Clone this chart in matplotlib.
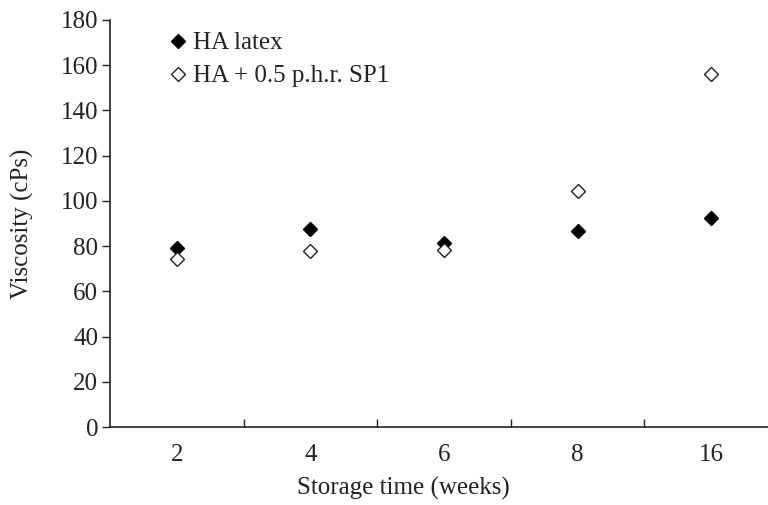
import matplotlib
matplotlib.use("Agg")
import matplotlib.pyplot as plt
import numpy as np

categories = ["2", "4", "6", "8", "16"]
ha_latex = [79, 87.5, 81.5, 86.5, 92.5]
ha_sp1 = [74.5, 78, 78.5, 104.5, 156]
yticks = [0, 20, 40, 60, 80, 100, 120, 140, 160, 180]

plt.rcParams['font.family'] = ['Liberation Serif', 'DejaVu Serif']
FS = 18

fig = plt.figure(figsize=(7.68, 5.05), dpi=100)
ax = fig.add_axes([110/768, 1-427/505, 668/768, 407/505])

x = np.arange(len(categories))
ax.plot(x, ha_latex, linestyle='none', marker='D', markersize=7.5,
        color='black', markeredgecolor='black', label='HA latex')
ax.plot(x, ha_sp1, linestyle='none', marker='D', markersize=7.5,
        markerfacecolor='white', markeredgecolor='#222222', markeredgewidth=1.0,
        label='HA + 0.5 p.h.r. SP1')

ax.set_xlim(-0.5, len(categories)-0.5)
ax.set_ylim(0, 180)
ax.set_yticks(yticks)
ax.set_xticks(x)
ax.set_xticklabels(categories)
ax.set_xticks(np.arange(0.5, len(categories)-0.5, 1), minor=True)
ax.tick_params(axis='x', which='major', length=0, pad=12, labelsize=FS, labelcolor='#222222')
ax.tick_params(axis='x', which='minor', direction='in', length=6, width=1, color='#222222')
ax.tick_params(axis='y', which='major', direction='out', length=6, width=1, color='#222222',
               labelsize=FS, pad=2.5, labelcolor='#222222')

for s in ['top', 'right']:
    ax.spines[s].set_visible(False)
for s in ['left', 'bottom']:
    ax.spines[s].set_linewidth(1.2)
    ax.spines[s].set_color('#222222')

ax.set_xlabel('Storage time (weeks)', fontsize=FS, color='#222222', va='center')
ax.xaxis.set_label_coords((403-110)/668, (427-488)/407)
ax.set_ylabel('Viscosity (cPs)', fontsize=FS, color='#222222', va='center')
ax.yaxis.set_label_coords((22-110)/668, 0.5)

leg = ax.legend(loc='upper left', bbox_to_anchor=((157-110)/668, (427-22)/407), frameon=False,
          fontsize=FS, handletextpad=0.15, handlelength=0.9, labelspacing=0.42,
          borderaxespad=0)
for t in leg.get_texts():
    t.set_color('#222222')

fig.savefig('out.png', dpi=100)
